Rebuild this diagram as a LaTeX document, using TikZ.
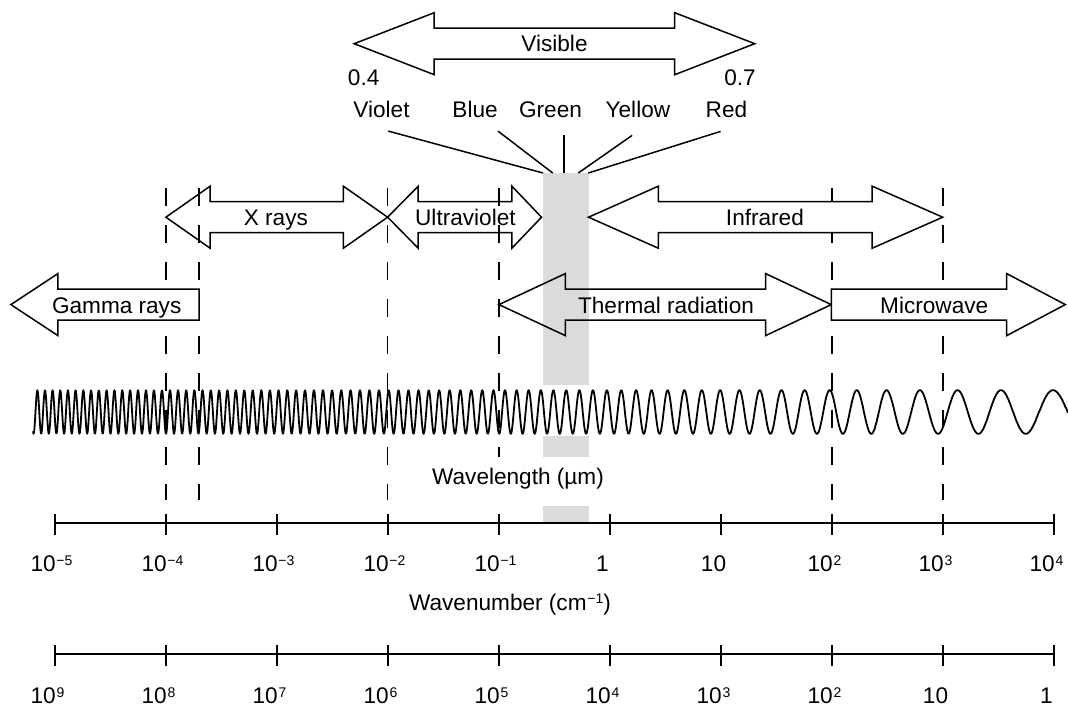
\documentclass[tikz,border=0pt]{standalone}
\usepackage{fontspec}
\setmainfont{Liberation Sans}
\usepackage{tikz}
\usepackage{xcolor}

\definecolor{bandgray}{gray}{0.86}
\newcommand{\sups}[1]{\kern0.4pt\raisebox{3.2pt}{\fontsize{7}{7}\selectfont #1}}
% block arrow: [style] left tip, right tip, y, left head length, right head length
\newcommand{\bandarrow}[6][band]{%
  \draw[#1] (#2,#4) -- ({#2+#5},{#4-31}) -- ({#2+#5},{#4-15.5}) -- ({#3-#6},{#4-15.5})
    -- ({#3-#6},{#4-31}) -- (#3,#4) -- ({#3-#6},{#4+31}) -- ({#3-#6},{#4+15.5})
    -- ({#2+#5},{#4+15.5}) -- ({#2+#5},{#4+31}) -- cycle;}

\begin{document}
\begin{tikzpicture}[x=0.5pt,y=-0.5pt,
  lbl/.style={font=\fontsize{11.3}{13}\selectfont, inner sep=0pt, text height=8.1pt, text depth=0pt},
  band/.style={draw, line width=0.75pt, line join=miter},
  bandfill/.style={band, fill=white},
  guide/.style={line width=0.8pt, dash pattern=on 9pt off 9.5pt},
  axis/.style={line width=1pt},
  wave/.style={line width=0.9pt, line join=round},
  pointer/.style={line width=0.75pt}]
  \useasboundingbox (0,0) rectangle (1068,706);

  \pgfmathsetmacro{\amp}{21.8}  % wave amplitude [px]
  \pgfmathsetmacro{\ymid}{412}  % wave centre line [px]
  \pgfmathsetmacro{\Nref}{(1053-228.31*ln(7+exp(0.00438*(1053-157))))/7} % phase at last crest

  % visible band, grey
  \fill[bandgray] (542.5,173) rectangle (588.5,384.7);
  \fill[bandgray] (542.5,436.3) rectangle (588.5,457.3);
  \fill[bandgray] (542.5,505.7) rectangle (588.5,523);
  \coordinate (gv) at (543,173);
  \coordinate (gb) at (552.7,173);
  \coordinate (gg) at (564,173);
  \coordinate (gy) at (578.3,173);
  \coordinate (gr) at (588.3,173);

  % region boundaries
  \foreach \xd/\yb in {165.9/499.7, 199.2/499.7, 387.6/499.7, 498.9/457, 832/499.7, 942.7/499.7}
    \draw[guide] (\xd,188.3) -- (\xd,\yb);

  % visible
  \bandarrow{354.2}{754.7}{43.7}{80}{80}
  \node[lbl] (visible) at (554.5,43.5) {Visible};
  \node[lbl] (lo) at (363.7,77.5) {0.4};
  \node[lbl] (hi) at (740,77.5) {0.7};
  \node[lbl] (violet) at (381.5,109.2) {Violet};
  \node[lbl] (blue) at (475.1,109.2) {Blue};
  \node[lbl] (green) at (550.5,109.2) {Green};
  \node[lbl] (yellow) at (637.9,109.2) {Yellow};
  \node[lbl] (red) at (726.4,109.2) {Red};
  \draw[pointer] (violet.south) ++(6.8,13.4) -- (gv);
  \draw[pointer] (blue.south) ++(22.9,13.4) -- (gb);
  \draw[pointer] (green.south) ++(13.5,17.7) -- (gg);
  \draw[pointer] (yellow.south) ++(-5.8,17.7) -- (gy);
  \draw[pointer] (red.south) ++(-5.8,13.7) -- (gr);

  % middle row
  \bandarrow{165.9}{387.6}{217.2}{44.2}{44.2}
  \bandarrow{387.6}{541.5}{217.2}{30.6}{29.6}
  \bandarrow[bandfill]{588.5}{942.7}{217.2}{69.8}{70.5}
  \node[lbl] (xrays) at (275.9,217.5) {X rays};
  \node[lbl] (uv) at (465.4,217.5) {Ultraviolet};
  \node[lbl] (ir) at (764.9,217.5) {Infrared};

  % lower row
  \bandarrow{498.9}{831.3}{304.6}{66.4}{65.7}
  \draw[bandfill] (10.9,304.6) -- (57.9,273.6) -- (57.9,289.1) -- (199.2,289.1) -- (199.2,320.1)
    -- (57.9,320.1) -- (57.9,335.6) -- cycle;
  \draw[bandfill] (831.3,289.1) -- (1006.7,289.1) -- (1006.7,273.6) -- (1065.3,304.6)
    -- (1006.7,335.6) -- (1006.7,320.1) -- (831.3,320.1) -- cycle;
  \node[lbl] (gamma) at (116.7,305) {Gamma rays};
  \node[lbl] (thermal) at (666,305) {Thermal radiation};
  \node[lbl] (micro) at (934.2,305) {Microwave};

  % chirped wave
  \draw[wave] plot[domain=33:1068, samples=2100, variable=\t]
    (\t,{\ymid-\amp*cos(360*mod((\t-228.31*ln(7+exp(0.00438*(\t-157))))/7-\Nref,1))});

  % wavelength axis
  \node[lbl] (wltitle) at (518,476.3) {Wavelength (µm)};
  \draw[axis] (54.5,523) -- (1053.5,523);
  \foreach \lab [count=\i from 0] in {10\sups{−5},10\sups{−4},10\sups{−3},10\sups{−2},10\sups{−1},1,10,10\sups{2},10\sups{3},10\sups{4}} {
    \coordinate (wl\i) at ({54.5+111*\i},523);
    \draw[axis] (wl\i) ++(0,-9) -- ++(0,21);
    \node[lbl] (lam\i) at ({54.5+111*\i-(\i<5 ? 3 : 7)},563.8) {\lab};
  }

  % wavenumber axis
  \node[lbl] (wntitle) at (510,602.2) {Wavenumber (cm\sups{−1})};
  \draw[axis] (54.5,654) -- (1053.5,654);
  \foreach \lab [count=\i from 0] in {10\sups{9},10\sups{8},10\sups{7},10\sups{6},10\sups{5},10\sups{4},10\sups{3},10\sups{2},10,1} {
    \coordinate (wn\i) at ({54.5+111*\i},654);
    \draw[axis] (wn\i) ++(0,-9) -- ++(0,21);
    \node[lbl] (nu\i) at ({54.5+111*\i-7},695.5) {\lab};
  }
\end{tikzpicture}
\end{document}
